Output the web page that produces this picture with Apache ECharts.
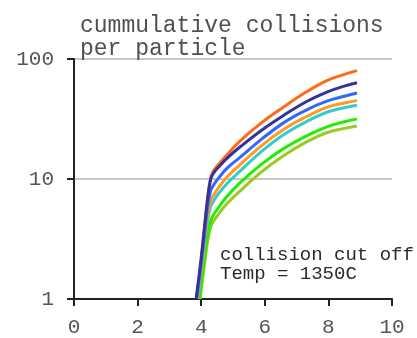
<!DOCTYPE html>
<html>
<head>
<meta charset="utf-8">
<script src="https://cdn.jsdelivr.net/npm/echarts@6/dist/echarts.min.js"></script>
<style>
  html, body { margin: 0; padding: 0; background: #fff; }
  #chart { width: 417px; height: 338px; }
</style>
</head>
<body>
<div id="chart"></div>
<script>
// Shared x positions (after onset) for every curve
const xs = [4.0, 4.1, 4.2, 4.3, 4.4, 4.55, 4.8, 5.2, 5.9, 6.6, 7.3, 7.95, 8.5, 8.9];

// x where each curve leaves 1 collision
const onsetRed = 3.85, onsetNavy = 3.84, onsetBlue = 3.86, onsetOrange = 3.88,
      onsetCyan = 3.9, onsetGreen = 3.95, onsetOlive = 3.97;

// cumulative collisions per particle
const redVals    = [2.1, 3.8, 6.8, 10.3, 11.8, 13.3, 15.8, 20.5, 29.5, 40, 53, 66, 74.5, 80];
const navyVals   = [2.2, 3.9, 6.8, 10.0, 11.3, 12.6, 14.8, 18.3, 25.5, 34, 44, 53, 59.5, 63.5];
const blueVals   = [2.0, 3.4, 5.8, 8.0, 9.0, 10.2, 12.2, 15.0, 21.5, 29.5, 37.5, 44.5, 49, 52];
const orangeVals = [1.8, 3.0, 4.9, 6.6, 7.4, 8.5, 10.3, 13.0, 19.0, 26, 33, 39.5, 43, 45];
const cyanVals   = [1.7, 2.8, 4.4, 5.9, 6.6, 7.6, 9.1, 11.5, 17.0, 23.5, 30, 36, 39.3, 41.2];
const greenVals  = [1.3, 2.2, 3.4, 4.5, 5.1, 5.8, 7.1, 9.2, 13.3, 18, 22.8, 27.2, 30.0, 31.7];
const oliveVals  = [1.2, 1.9, 3.0, 4.0, 4.5, 5.1, 6.2, 7.85, 11.5, 15.7, 20.3, 24.3, 26.4, 27.7];

const xTicks = [0, 2, 4, 6, 8, 10];
const yTicks = [1, 10, 100];

const MONO = '"Liberation Mono", "Courier New", monospace';

function curve(onset, vals) {
  return [[onset, 1]].concat(xs.map((x, i) => [x, vals[i]]));
}

function line(name, color, onset, vals) {
  return {
    name: name,
    type: 'line',
    data: curve(onset, vals),
    showSymbol: false,
    smooth: 0.4,
    lineStyle: { color: color, width: 3 },
    itemStyle: { color: color },
    emphasis: { disabled: true }
  };
}

const chart = echarts.init(document.getElementById('chart'), null, { renderer: 'canvas' });

chart.setOption({
  animation: false,
  backgroundColor: '#ffffff',
  title: {
    text: 'cummulative collisions\nper particle',
    left: 75,
    top: 9,
    textStyle: {
      fontFamily: MONO,
      fontSize: 23,
      fontWeight: 'normal',
      color: '#505050',
      lineHeight: 23
    }
  },
  grid: { left: 74, right: 25, top: 59, bottom: 36, containLabel: false },
  xAxis: {
    type: 'value',
    min: 0,
    max: 10,
    interval: 2,
    axisLine: { show: true, lineStyle: { color: '#222', width: 2 } },
    axisTick: { show: true, length: 7, lineStyle: { color: '#222', width: 2 } },
    axisLabel: {
      margin: 18,
      fontFamily: MONO,
      fontSize: 21,
      color: '#555',
      formatter: v => (xTicks.indexOf(v) >= 0 ? String(v) : '')
    },
    splitLine: { show: false }
  },
  yAxis: {
    type: 'log',
    logBase: 10,
    min: 1,
    max: 100,
    axisLine: { show: true, lineStyle: { color: '#222', width: 2 } },
    axisTick: { show: true, inside: false, length: 7, lineStyle: { color: '#222', width: 2 } },
    axisLabel: {
      margin: 20,
      fontFamily: MONO,
      fontSize: 21,
      color: '#555',
      formatter: v => (yTicks.indexOf(Math.round(v)) >= 0 ? String(Math.round(v)) : '')
    },
    splitLine: { show: true, lineStyle: { color: '#c8c8c8', width: 2 } },
    minorTick: { show: false },
    minorSplitLine: { show: false }
  },
  graphic: [{
    type: 'text',
    left: 220,
    top: 245,
    z: 100,
    style: {
      text: 'collision cut off\nTemp = 1350C',
      font: '19px ' + MONO,
      fill: '#2a2a2a',
      lineHeight: 19
    }
  }],
  series: [
    line('red', '#ff6a1a', onsetRed, redVals),
    line('olive', '#99cc22', onsetOlive, oliveVals),
    line('green', '#22ee00', onsetGreen, greenVals),
    line('cyan', '#33cccc', onsetCyan, cyanVals),
    line('orange', '#ff9922', onsetOrange, orangeVals),
    line('blue', '#3366ff', onsetBlue, blueVals),
    line('navy', '#333399', onsetNavy, navyVals)
  ]
});
</script>
</body>
</html>
